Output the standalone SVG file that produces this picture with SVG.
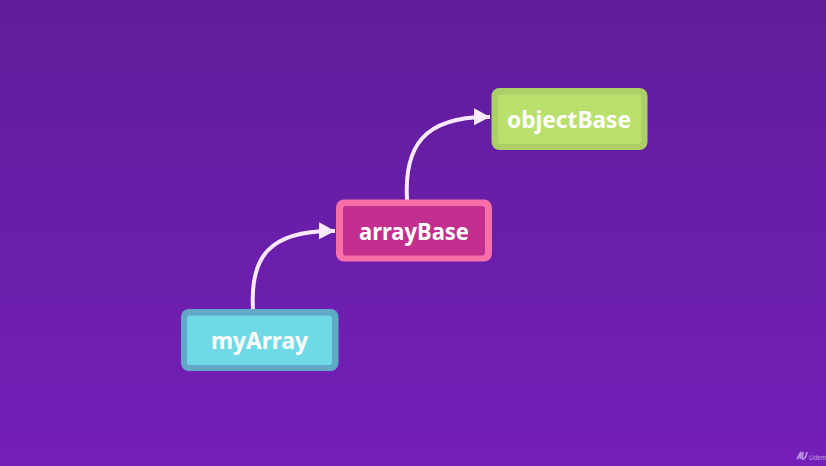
<svg xmlns="http://www.w3.org/2000/svg" width="826" height="466" viewBox="0 0 826 466">
<defs>
<linearGradient id="bg" x1="0" y1="0" x2="0" y2="1"><stop offset="0" stop-color="#5f1d9b"/><stop offset="1" stop-color="#741fb8"/></linearGradient>
<marker id="arrow" markerUnits="userSpaceOnUse" markerWidth="18" markerHeight="18" refX="16" refY="9" orient="auto"><path d="M0 0.500L16 9L0 17.500Z" fill="#fbeaff"/></marker>
</defs>
<style>
.label{font-family:"Noto Sans","Open Sans",sans-serif;font-weight:700;font-size:24px;fill:#fff;text-anchor:middle}
.conn{fill:none;stroke:#fbeaff;stroke-width:4}
</style>
<rect width="826" height="466" fill="url(#bg)"/>
<g id="connectors">
<path class="conn" d="M253 309C250 258 268 230 335 231" marker-end="url(#arrow)"/>
<path class="conn" d="M407 200C404 147 423 116 490 117" marker-end="url(#arrow)"/>
</g>
<g id="myArray"><rect x="181" y="309" width="157.500" height="62" rx="8" fill="#62a9c8"/><rect x="187" y="315.500" width="145" height="49.500" rx="3" fill="#70d9e6"/><text class="label" x="259.500" y="349" textLength="97" lengthAdjust="spacingAndGlyphs">myArray</text></g>
<g id="arrayBase"><rect x="336" y="199.500" width="156" height="62" rx="8" fill="#f76fa9"/><rect x="343" y="206" width="142" height="49.500" rx="3" fill="#c22f8e"/><text class="label" x="414" y="240" textLength="110" lengthAdjust="spacingAndGlyphs">arrayBase</text></g>
<g id="objectBase"><rect x="491.500" y="88" width="156" height="62" rx="8" fill="#acd066"/><rect x="498" y="94.500" width="143" height="49.500" rx="3" fill="#b9df6c"/><text class="label" x="569" y="128" textLength="124" lengthAdjust="spacingAndGlyphs">objectBase</text></g>
<g id="watermark" opacity="0.6"><path d="M797 459L801 452L800 459M803 452L802 458Q803 461 806 456L807 452" fill="none" stroke="#f3e6fa" stroke-width="1.600"/><text x="809" y="460" font-family="Liberation Sans,sans-serif" font-size="6.500" fill="#f3e6fa">Udem</text></g>
</svg>
